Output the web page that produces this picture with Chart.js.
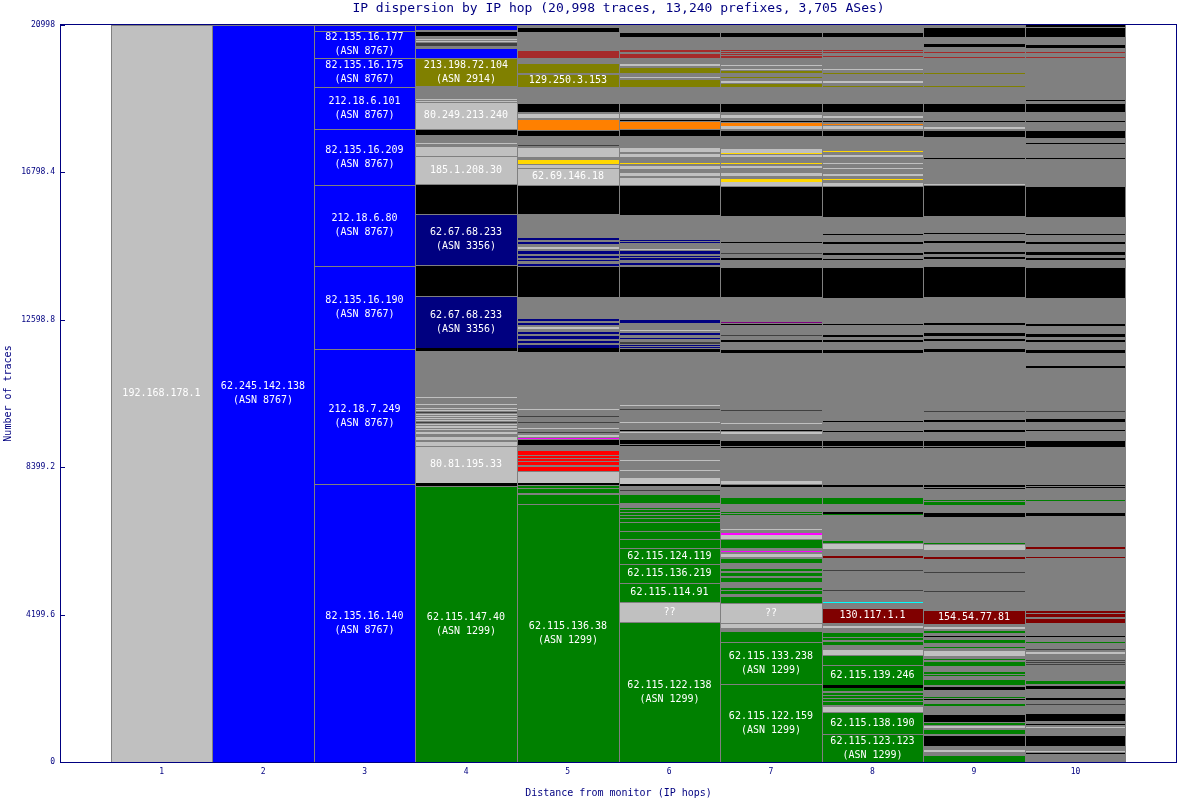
<!DOCTYPE html>
<html>
<head>
<meta charset="utf-8">
<title>IP dispersion by IP hop</title>
<script src="https://cdn.jsdelivr.net/npm/chart.js@4.4.1/dist/chart.umd.min.js"></script>
<style>
  html, body { margin: 0; padding: 0; background: #ffffff; }
  #wrap { width: 1178px; height: 800px; }
</style>
</head>
<body>
<div id="wrap"><canvas id="dispersionChart"></canvas></div>
<script>
// IP dispersion by hop: every hop is a stack of next-hop addresses, bottom to top.
// segment = [traces, colour key, label]

const hopLabels = ['1', '2', '3', '4', '5', '6', '7', '8', '9', '10'];
const yTicks = [0, 4199.6, 8399.2, 12598.8, 16798.4, 20998];
const totalTraces = 20998;

const hop1 = [[20998, 's', '192.168.178.1']];

const hop2 = [[20998, 'b', '62.245.142.138\n(ASN 8767)']];

const hop3 = [
  [7921, 'b', '82.135.16.140\n(ASN 8767)'],
  [3846, 'b', '212.18.7.249\n(ASN 8767)'],
  [2365, 'b', '82.135.16.190\n(ASN 8767)'],
  [2308, 'b', '212.18.6.80\n(ASN 8767)'],
  [1595, 'b', '82.135.16.209\n(ASN 8767)'],
  [1197, 'b', '212.18.6.101\n(ASN 8767)'],
  [826, 'b', '82.135.16.175\n(ASN 8767)'],
  [769, 'b', '82.135.16.177\n(ASN 8767)'],
  [171, 'b']
];

const hop4 = [
  [7857, 'G', '62.115.147.40\n(ASN 1299)'],
  [80, 'k'],
  [1077, 's', '80.81.195.33'],
  [142, 's'], [28, 'g'], [114, 's'], [48, 'g'], [66, 's'], [37, 'g'], [48, 's'], [28, 'g'],
  [37, 's'], [28, 'g'], [37, 's'], [28, 'g'], [28, 'd'], [37, 'g'], [28, 's'], [28, 'g'],
  [28, 's'], [28, 'g'], [28, 's'], [28, 'g'], [28, 's'], [28, 'g'], [28, 'd'], [28, 'g'],
  [28, 's'], [28, 'g'], [28, 's'], [77, 'g'], [28, 's'], [171, 'g'], [28, 's'],
  [1316, 'g'],
  [85, 'k'],
  [1482, 'n', '62.67.68.233\n(ASN 3356)'],
  [878, 'k'],
  [1453, 'n', '62.67.68.233\n(ASN 3356)'],
  [855, 'k'],
  [798, 's', '185.1.208.30'],
  [308, 's'],
  [57, 'g'], [28, 's'], [228, 'g'],
  [162, 'k'],
  [770, 's', '80.249.213.240'],
  [28, 's'], [28, 'g'], [28, 's'],
  [379, 'g'],
  [789, 'o', '213.198.72.104\n(ASN 2914)'],
  [285, 'b'],
  [57, 'g'], [85, 'd'], [28, 'g'], [28, 's'], [28, 'g'], [28, 's'], [94, 'g'],
  [142, 'k'], [28, 'g'], [97, 'b'], [66, 'g']
];

const hop5 = [
  [7358, 'G', '62.115.136.38\n(ASN 1299)'],
  [285, 'G'],
  [28, 'g'], [94, 'G'], [28, 'g'], [57, 'G'], [28, 'g'],
  [68, 'k'],
  [342, 's'],
  [134, 'r'], [28, 'g'], [85, 'r'], [28, 'g'], [57, 'r'], [28, 'g'], [57, 'r'], [28, 'g'],
  [57, 'r'], [28, 'g'], [57, 'r'], [28, 'g'],
  [122, 'g'], [171, 'k'],
  [28, 'm'], [28, 'g'], [57, 's'], [57, 'g'], [28, 'd'], [85, 'g'], [28, 's'], [142, 'g'],
  [28, 'd'], [142, 'g'], [28, 'd'], [171, 'g'], [28, 's'], [114, 'g'],
  [1530, 'g'], [94, 'k'],
  [85, 'n'], [57, 'g'], [57, 'n'], [57, 'g'], [85, 'n'], [57, 'g'], [57, 'n'], [85, 'g'],
  [57, 's'], [57, 'g'], [57, 'n'], [57, 'g'], [57, 'n'],
  [647, 'g'], [872, 'k'],
  [57, 'n'], [85, 'g'], [28, 'n'], [57, 'g'], [57, 'n'], [57, 'g'], [85, 'n'], [57, 'g'],
  [57, 's'], [85, 'g'], [57, 'n'], [57, 'g'], [57, 'n'], [57, 'g'],
  [618, 'g'], [835, 'k'],
  [476, 's', '62.69.146.18'],
  [123, 's'], [134, 'y'], [57, 'g'], [302, 's'],
  [34, 'g'], [28, 'd'], [251, 'g'],
  [162, 'k'], [313, 'O'], [28, 'g'], [142, 's'], [46, 'g'],
  [256, 'k'], [456, 'g'],
  [353, 'o', '129.250.3.153'],
  [28, 'g'], [302, 'o'], [142, 'g'], [219, 'w'], [521, 'g'], [125, 'k'], [66, 'g']
];

const hop6 = [
  [3977, 'G', '62.115.122.138\n(ASN 1299)'],
  [575, 's', '??'],
  [558, 'G', '62.115.114.91'],
  [541, 'G', '62.115.136.219'],
  [447, 'G', '62.115.124.119'],
  [265, 'G'], [228, 'G'], [239, 'G'],
  [85, 'G'], [28, 'g'], [57, 'G'], [28, 'g'], [57, 'G'], [28, 'g'], [57, 'G'], [28, 'g'], [28, 'G'],
  [151, 'g'], [256, 'G'],
  [85, 'g'], [28, 'd'], [105, 'g'],
  [66, 'k'], [208, 's'],
  [177, 'g'], [28, 's'], [256, 'g'], [28, 's'], [385, 'g'],
  [28, 'k'], [28, 'g'], [142, 'k'],
  [177, 'g'], [28, 's'], [37, 'g'], [28, 'k'], [199, 'g'], [28, 's'], [328, 'g'], [28, 'd'],
  [100, 'g'], [28, 's'],
  [1504, 'g'], [77, 'k'],
  [28, 'g'], [37, 'n'], [28, 'g'], [28, 'n'], [40, 'g'], [57, 'd'], [66, 'g'], [48, 'n'],
  [66, 'g'], [77, 'n'], [37, 'g'], [28, 's'], [219, 'g'], [66, 'n'],
  [667, 'g'], [872, 'k'],
  [28, 'g'], [28, 'n'], [20, 'g'], [28, 'n'], [85, 'g'], [37, 'n'], [40, 'g'], [28, 'n'],
  [66, 'g'], [85, 'n'], [28, 'g'], [28, 's'], [162, 'g'], [37, 'n'], [28, 'g'], [28, 'n'], [20, 'g'],
  [672, 'g'], [855, 'k'],
  [237, 's'], [28, 'g'], [123, 's'], [77, 'g'], [114, 's'], [28, 'g'], [37, 'y'], [180, 'g'],
  [114, 's'], [28, 'g'], [142, 's'],
  [305, 'g'], [191, 'k'], [245, 'O'], [28, 'k'], [57, 'g'], [142, 's'], [28, 'g'],
  [256, 'k'], [456, 'g'],
  [211, 'o'], [37, 'g'], [28, 's'], [105, 'g'], [188, 'o'], [28, 'g'], [40, 's'], [188, 'g'],
  [125, 'w'], [28, 'g'], [66, 'w'], [379, 'g'], [142, 'k'], [191, 'g']
];

const hop7 = [
  [2228, 'G', '62.115.122.159\n(ASN 1299)'],
  [1202, 'G', '62.115.133.238\n(ASN 1299)'],
  [302, 'G'], [97, 'g'], [94, 's'], [48, 'g'],
  [570, 's', '??'],
  [188, 'G'], [48, 'g'], [94, 'G'], [28, 'g'], [68, 'G'], [160, 'g'],
  [154, 'G'], [28, 'g'], [85, 'G'], [46, 'g'], [68, 'G'], [151, 'g'],
  [162, 'G'], [28, 'g'], [74, 's'], [48, 'g'], [37, 'm'], [77, 'g'], [276, 'G'], [94, 's'],
  [20, 'g'], [48, 'm'], [74, 'g'], [28, 's'], [419, 'g'],
  [28, 'G'], [28, 'g'], [37, 'G'], [219, 'g'], [208, 'G'], [285, 'g'], [48, 'k'], [28, 'g'], [114, 's'],
  [920, 'g'],
  [28, 'k'], [20, 'g'], [171, 'k'],
  [171, 'g'], [48, 's'], [28, 'g'], [28, 'k'], [180, 'g'], [28, 's'], [333, 'g'], [28, 'd'], [1641, 'g'],
  [77, 'k'],
  [236, 'g'], [48, 'k'], [114, 'g'], [28, 'd'], [285, 'g'], [28, 'k'], [37, 'g'], [28, 'p'], [695, 'g'],
  [872, 'k'],
  [191, 'g'], [66, 'k'], [114, 'g'], [28, 'd'], [268, 'g'], [46, 'k'], [741, 'g'],
  [855, 'k'],
  [97, 's'], [131, 'y'], [48, 'g'], [123, 's'], [97, 'g'], [74, 's'], [57, 'g'], [28, 'y'],
  [171, 'g'], [57, 's'], [28, 'g'], [28, 'y'], [94, 's'], [379, 'g'],
  [162, 'k'],
  [28, 'g'], [94, 's'], [97, 'O'], [28, 'g'], [28, 'k'], [74, 'g'], [77, 's'], [94, 'g'],
  [256, 'k'], [456, 'g'],
  [97, 'o'], [28, 'g'], [57, 's'], [85, 'g'], [28, 'o'], [97, 'g'], [74, 'o'], [28, 'g'],
  [37, 's'], [85, 'g'], [28, 's'], [199, 'g'],
  [48, 'w'], [37, 'g'], [28, 'w'], [28, 'g'], [28, 'w'], [20, 'g'], [28, 'w'], [379, 'g'],
  [142, 'k'], [191, 'g']
];

const hop8 = [
  [798, 'G', '62.115.123.123\n(ASN 1299)'],
  [613, 'G', '62.115.138.190'],
  [185, 's'],
  [28, 'g'], [85, 'G'], [28, 'g'], [57, 'G'], [28, 'g'], [57, 'G'], [28, 'g'], [57, 'G'], [57, 'g'], [77, 'G'],
  [94, 'k'],
  [561, 'G', '62.115.139.246'],
  [285, 'G'], [171, 's'],
  [123, 'g'], [85, 'G'], [57, 'g'], [66, 'G'], [28, 'g'], [125, 'G'], [123, 'g'], [71, 's'], [71, 'g'],
  [436, 'M', '130.117.1.1'],
  [134, 'g'], [28, 'c'], [328, 'g'], [28, 'd'], [527, 'g'], [28, 'd'], [350, 'g'], [48, 'M'],
  [199, 'g'], [162, 's'], [74, 'G'], [732, 'g'], [48, 'G'], [46, 'k'], [219, 'g'], [191, 'G'],
  [302, 'g'], [48, 'k'], [1063, 'g'],
  [28, 'k'], [20, 'g'], [171, 'k'],
  [236, 'g'], [28, 'k'], [256, 'g'], [28, 'k'], [1937, 'g'],
  [77, 'k'],
  [248, 'g'], [37, 'k'], [94, 'g'], [48, 'k'], [285, 'g'], [28, 'k'], [749, 'g'],
  [883, 'k'],
  [199, 'g'], [40, 'k'], [114, 'g'], [37, 'k'], [276, 'g'], [37, 'k'], [208, 'g'], [28, 'k'], [493, 'g'],
  [883, 'k'],
  [114, 's'], [48, 'g'], [28, 'y'], [85, 'g'], [57, 's'], [151, 'g'], [28, 's'], [114, 'g'],
  [28, 's'], [171, 'g'], [48, 's'], [100, 'g'], [28, 'y'], [422, 'g'],
  [162, 'k'],
  [28, 'g'], [85, 's'], [28, 'g'], [37, 'O'], [48, 'g'], [28, 'k'], [94, 'g'], [48, 's'], [123, 'g'],
  [256, 'k'], [456, 'g'],
  [28, 'o'], [85, 'g'], [57, 's'], [211, 'g'], [28, 'o'], [77, 'g'], [28, 's'], [333, 'g'],
  [37, 'w'], [94, 'g'], [28, 'w'], [20, 'g'], [28, 'w'], [379, 'g'],
  [142, 'k'], [191, 'g']
];

const hop9 = [
  [199, 'G'],
  [77, 'g'], [66, 's'], [123, 'g'],
  [305, 'k'],
  [28, 'g'], [134, 'G'], [46, 'g'], [48, 's'], [28, 'g'], [48, 'G'], [46, 'g'],
  [228, 'k'],
  [219, 'g'], [66, 'G'], [97, 'g'], [48, 'k'], [28, 'g'], [28, 'G'], [199, 'g'],
  [105, 'k'],
  [28, 'g'], [180, 'G'], [68, 'g'], [37, 'G'], [28, 'g'], [48, 'G'], [180, 'g'],
  [142, 'G'], [28, 'g'], [37, 'G'], [77, 'g'], [162, 's'], [57, 'g'], [37, 'G'], [123, 'g'],
  [68, 'G'], [94, 'g'], [28, 'k'], [94, 'g'], [48, 'G'], [66, 'g'], [48, 's'], [94, 'g'],
  [390, 'M', '154.54.77.81'],
  [513, 'g'], [28, 'd'], [513, 'g'], [28, 'd'], [379, 'g'], [57, 'M'], [191, 'g'], [162, 's'],
  [46, 'G'], [741, 'g'], [97, 'k'], [236, 'g'], [85, 'G'], [28, 'g'], [28, 'G'], [322, 'g'],
  [28, 'k'], [28, 'g'], [48, 'k'], [1063, 'g'],
  [28, 'k'], [20, 'g'], [171, 'k'],
  [236, 'g'], [48, 'k'], [236, 'g'], [48, 'k'], [228, 'g'], [28, 'd'], [1695, 'g'],
  [77, 'k'],
  [236, 'g'], [48, 'k'], [94, 'g'], [77, 'k'], [228, 'g'], [57, 'k'], [749, 'g'],
  [883, 'k'],
  [191, 'g'], [66, 'k'], [85, 'g'], [57, 'k'], [248, 'g'], [66, 'k'], [191, 'g'], [28, 'k'], [493, 'g'],
  [883, 'k'],
  [28, 's'], [721, 'g'], [28, 'k'], [598, 'g'],
  [191, 'k'],
  [28, 'g'], [66, 's'], [142, 'g'], [28, 'k'], [256, 'g'],
  [256, 'k'],
  [456, 'g'], [28, 'o'], [342, 'g'], [28, 'o'], [427, 'g'], [28, 'w'], [114, 'g'], [28, 'w'], [142, 'g'],
  [77, 'k'], [208, 'g'], [268, 'k'], [66, 'g']
];

const hop10 = [
  [235, 'g'],
  [28, 'k'], [20, 'g'], [28, 's'], [142, 'g'],
  [305, 'k'],
  [208, 'g'], [28, 's'], [48, 'g'], [28, 'k'], [94, 'g'],
  [228, 'k'],
  [234, 'g'], [28, 'd'], [120, 'g'], [46, 'k'], [256, 'g'],
  [105, 'k'],
  [28, 'g'], [85, 'G'], [476, 'g'],
  [28, 'd'], [28, 'g'], [28, 'd'], [28, 'g'], [28, 'd'], [28, 'g'],
  [142, 'g'], [46, 's'], [68, 'g'], [28, 'd'], [171, 'g'], [28, 'G'], [151, 'g'], [28, 'k'], [350, 'g'],
  [154, 'M'], [37, 'g'], [77, 'M'], [37, 'g'], [37, 'M'], [1510, 'g'],
  [28, 'M'], [228, 'g'], [105, 'M'], [835, 'g'],
  [97, 'k'], [350, 'g'], [28, 'G'], [322, 'g'], [28, 'k'], [28, 'g'], [48, 'k'], [1063, 'g'],
  [28, 'k'], [20, 'g'], [171, 'k'],
  [236, 'g'], [48, 'k'], [236, 'g'], [68, 'k'], [208, 'g'], [28, 'd'], [1234, 'g'], [48, 'k'], [379, 'g'],
  [77, 'k'],
  [236, 'g'], [48, 'k'], [94, 'g'], [77, 'k'], [228, 'g'], [57, 'k'], [749, 'g'],
  [883, 'k'],
  [191, 'g'], [66, 'k'], [77, 'g'], [94, 'k'], [219, 'g'], [66, 'k'], [191, 'g'], [28, 'k'], [493, 'g'],
  [883, 'k'],
  [769, 'g'], [28, 'k'], [390, 'g'], [37, 'k'], [142, 'g'],
  [219, 'k'],
  [236, 'g'], [28, 'k'], [256, 'g'],
  [256, 'k'],
  [48, 'g'], [28, 'k'], [1205, 'g'], [28, 'w'], [114, 'g'], [28, 'w'], [114, 'g'],
  [105, 'k'], [208, 'g'], [268, 'k'], [20, 'g'], [48, 'k']
];

const hops = [hop1, hop2, hop3, hop4, hop5, hop6, hop7, hop8, hop9, hop10];

const palette = {
  g: '#808080', k: '#000000', s: '#c0c0c0', d: '#404040',
  b: '#0000ff', n: '#000080', o: '#808000', G: '#008000',
  r: '#ff0000', w: '#a52a2a', O: '#ff8000', y: '#ffd700',
  m: '#ff00ff', p: '#800080', M: '#800000', c: '#00ffff'
};
const ink = '#000080';
const edge = '#808080';
const mono = '"DejaVu Sans Mono", monospace';

// one empty slot either side so the hops sit where the original axis puts them
const slots = ['', ...hopLabels, ''];
const depth = Math.max(...hops.map(h => h.length));

function segmentAt(col, level) {
  const hop = hops[col - 1];
  return hop ? hop[level] : undefined;
}

const datasets = [];
for (let i = 0; i < depth; i++) {
  const segs = slots.map((_, j) => segmentAt(j, i));
  datasets.push({
    data: segs.map(s => s ? s[0] : null),
    backgroundColor: segs.map(s => s ? palette[s[1]] : 'rgba(0,0,0,0)'),
    borderColor: edge,
    borderWidth: segs.map((s, j) => s
      ? { top: s[0] >= 100 ? 1 : 0, left: 1, right: j === hops.length ? 1 : 0, bottom: 0 }
      : 0)
  });
}

// keep the bar edges on whole pixels so the one-pixel lines stay crisp
const snapBars = {
  id: 'snapBars',
  afterDatasetsUpdate(chart) {
    chart.data.datasets.forEach((ds, i) => {
      chart.getDatasetMeta(i).data.forEach(bar => {
        if (!isFinite(bar.y) || !isFinite(bar.base) || !isFinite(bar.x)) return;
        const l = Math.round(bar.x - bar.width / 2);
        const r = Math.round(bar.x + bar.width / 2);
        bar.x = (l + r) / 2;
        bar.width = r - l;
        bar.y = Math.round(bar.y);
        bar.base = Math.round(bar.base);
      });
    });
  }
};

const hopDecor = {
  id: 'hopDecor',
  afterDatasetsDraw(chart) {
    const ctx = chart.ctx;
    ctx.save();
    ctx.font = '10px ' + mono;
    ctx.fillStyle = '#ffffff';
    ctx.textAlign = 'center';
    ctx.textBaseline = 'middle';
    chart.data.datasets.forEach((ds, i) => {
      chart.getDatasetMeta(i).data.forEach((bar, j) => {
        const seg = segmentAt(j, i);
        if (!seg || !seg[2]) return;
        const lines = seg[2].split('\n');
        const cy = (bar.y + bar.base) / 2;
        lines.forEach((t, k) => {
          ctx.fillText(t, bar.x, cy + (k - (lines.length - 1) / 2) * 14);
        });
      });
    });
    ctx.restore();
  },
  afterDraw(chart) {
    const {ctx, chartArea: a} = chart;
    const y = chart.scales.y;
    ctx.save();
    ctx.strokeStyle = ink;
    ctx.lineWidth = 1;
    ctx.strokeRect(a.left + 0.5, a.top - 0.5, a.right - a.left - 1, a.bottom - a.top + 1);
    ctx.beginPath();
    yTicks.forEach(v => {
      const py = Math.round(y.getPixelForValue(v)) + 0.5;
      ctx.moveTo(a.left, py);
      ctx.lineTo(a.left + 5, py);
    });
    ctx.stroke();
    ctx.fillStyle = ink;
    ctx.font = '13px ' + mono;
    ctx.textAlign = 'center';
    ctx.textBaseline = 'middle';
    ctx.fillText('IP dispersion by IP hop (20,998 traces, 13,240 prefixes, 3,705 ASes)',
      (a.left + a.right) / 2, 9);
    ctx.restore();
  }
};

new Chart(document.getElementById('dispersionChart'), {
  type: 'bar',
  data: { labels: slots, datasets: datasets },
  plugins: [snapBars, hopDecor],
  options: {
    animation: false,
    responsive: true,
    maintainAspectRatio: false,
    layout: { padding: { top: 25, right: 1, bottom: 0, left: 0 } },
    datasets: {
      bar: { barPercentage: 1, categoryPercentage: 1, borderSkipped: false, inflateAmount: 0 }
    },
    plugins: {
      colors: { enabled: false },
      legend: { display: false },
      tooltip: { enabled: false }
    },
    scales: {
      x: {
        stacked: true,
        offset: false,
        grid: { display: false, drawTicks: false },
        border: { display: false },
        ticks: {
          color: ink,
          font: { family: mono, size: 8 },
          padding: 5,
          autoSkip: false,
          maxRotation: 0
        },
        title: {
          display: true,
          text: 'Distance from monitor (IP hops)',
          color: ink,
          font: { family: mono, size: 10 },
          padding: { top: 0, bottom: 1 }
        },
        afterFit: s => { s.height = 38; s.paddingLeft = 0; s.paddingRight = 0; }
      },
      y: {
        stacked: true,
        min: 0,
        max: totalTraces,
        grid: { display: false, drawTicks: false },
        border: { display: false },
        afterBuildTicks: s => { s.ticks = yTicks.map(v => ({ value: v })); },
        ticks: {
          color: ink,
          font: { family: mono, size: 8 },
          padding: 5,
          callback: v => String(v)
        },
        title: {
          display: true,
          text: 'Number of traces',
          color: ink,
          font: { family: mono, size: 10 },
          padding: { top: 2, bottom: 0 }
        },
        afterFit: s => { s.width = 60; }
      }
    }
  }
});
</script>
</body>
</html>
